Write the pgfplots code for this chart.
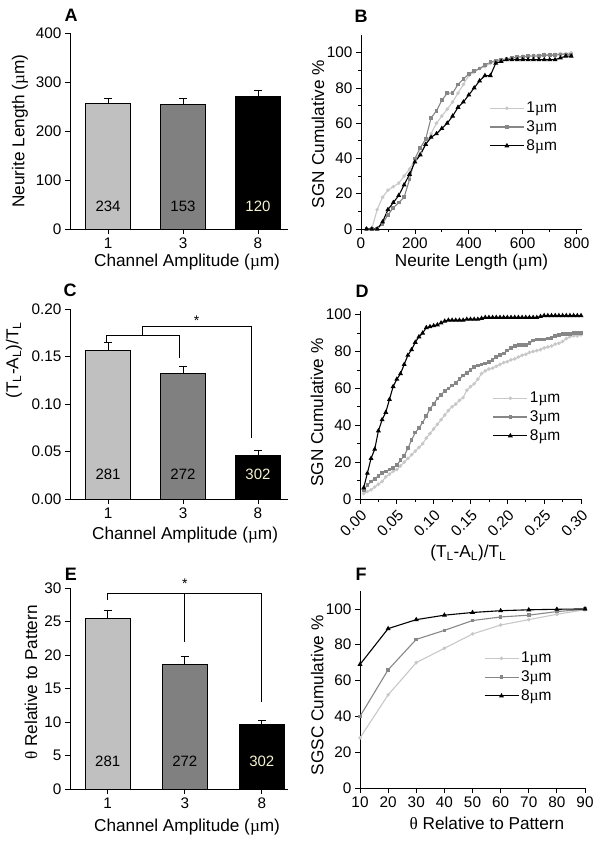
\documentclass[border=0pt]{standalone}
\usepackage{pgfplots}
\pgfplotsset{compat=1.18}
\usepackage{pgfplotstable}
\usepackage{fontspec}
\setmainfont{Liberation Sans}
\newfontfamily\sym{Liberation Serif}
\newcommand{\um}{{\sym µ}m}
\newcommand{\TA}{(T\textsubscript{L}-A\textsubscript{L})/T\textsubscript{L}}

\definecolor{barA}{RGB}{192,192,192}
\definecolor{barB}{RGB}{128,128,128}
\definecolor{lineA}{RGB}{200,200,200}
\definecolor{lineB}{RGB}{135,135,135}
\definecolor{cream}{RGB}{245,240,205}

\pgfplotsset{
  panel/.style={
    scale only axis, anchor=south west, clip=false,
    axis lines=left, axis line style={-, line width=0.8pt},
    tick align=outside, major tick length=5pt, minor tick length=3pt,
    tick style={line width=0.8pt, black},
    tick label style={font=\fontsize{15.3}{17}\selectfont},
    label style={font=\fontsize{17.2}{19}\selectfont},
    /pgf/number format/assume math mode=true,
  },
  barpanel/.style={panel, xtick={0,1,2}, xticklabels={1,3,8}, ymin=0},
  curvepanel/.style={panel,
    legend style={draw=none, fill=none, font=\fontsize{15.5}{17}\selectfont,
      row sep=2.5pt, legend cell align=left, anchor=north west,
      inner sep=0pt},
    legend image code/.code={\draw[mark repeat=2, mark phase=2]
      plot coordinates {(0pt,0pt) (17pt,0pt) (34pt,0pt)};}},
  sA/.style={color=lineA, line width=1.1pt, mark=*, mark size=1.2pt},
  sB/.style={color=lineB, line width=1.1pt, mark=square*, mark size=1.3pt},
  sC/.style={color=black, line width=1.1pt, mark=triangle*, mark size=1.8pt},
  bar/.style={ybar, bar width=45pt, bar shift=0pt, draw=black, line width=0.8pt,
    error bars/y dir=plus, error bars/y explicit,
    error bars/error bar style={line width=0.8pt, black},
    error bars/error mark options={rotate=90, mark size=4pt, line width=0.8pt, black}},
}

% Panel B: cumulative neurite length
\pgfplotstableread{
x a b c
20 0 0 0
40 0 0 0
60 11 0 0
80 18 3 4
100 22 8 11
120 24 12 15
140 26 15 19
160 30 18 25
180 34 28 31
200 39 40 38
220 43 46 42
240 48 51 48
260 54 63 52
280 60 67 54
300 64 73 57
320 68 77 60
340 72 77 64
360 77 82 69
380 82 85 72
400 87 88 76
420 89 89.5 80
440 91 91 84
460 92 93 87
480 94 94.5 87
500 95 95.5 94
520 96 96 95
540 96 96.5 96
560 97 97 96
580 97.5 97.5 96
600 98 97.5 96
620 98 98 96
640 98.5 98 96
660 98.5 98 96
680 99 98.5 96
700 99 98.5 96
720 99 98.5 96
740 99.5 99 97
760 99.5 99 98
780 100 99 98
}\tabB

% Panel D: cumulative (TL-AL)/TL
\pgfplotstableread{
x a b c
0.005 3 5 6
0.010 4 7.5 14
0.015 5 9.5 22
0.020 6.5 11 27
0.025 8 12.5 37
0.030 9.5 14 43
0.035 12 15 47
0.040 13.5 16 54
0.045 15 17 61
0.050 16 18.5 65
0.055 18 21 68
0.060 20 23.5 73
0.065 22 27.5 78
0.070 24 32 81
0.075 26 36 85
0.080 28 38.5 88
0.085 30 41.5 90
0.090 33 45 93
0.095 35.5 49 93.5
0.100 38 51.5 94
0.105 40.5 54.5 94.5
0.110 43 56.5 95.5
0.115 45.5 58.5 96.5
0.120 48 60 97
0.125 50 61.5 97
0.130 51.5 63 97
0.135 53.5 65 97
0.140 55 67 97
0.145 59 68.5 97.5
0.150 61 70 97.5
0.155 62.5 71.5 97.5
0.160 65 72.5 97.5
0.165 68 73 98
0.170 69.5 73.5 98.5
0.175 70.5 74.5 98.5
0.180 71 75.5 98.5
0.185 72 77 98.5
0.190 73 78 98.5
0.195 74 79 98.5
0.200 74.5 80.5 98.5
0.205 75.5 82 98.5
0.210 76 83 98.5
0.215 77 83.5 98.5
0.220 78 83.5 98.5
0.225 78.5 83.5 98.5
0.230 79.5 84.5 98.5
0.235 80 86 98.5
0.240 80.5 86.5 98.5
0.245 81 86.5 99
0.250 82 86.5 99.5
0.255 82.5 87 99.5
0.260 83 87.5 99.5
0.265 84 88.5 99.5
0.270 84.5 89 99.5
0.275 85.5 89.5 99.5
0.280 87 89.5 99.5
0.285 88 89.5 99.5
0.290 88.5 90 99.5
0.295 88.5 90 99.5
0.300 89 90 99.5
}\tabD

% Panel F: cumulative angle
\pgfplotstableread{
x a b c
10 28 40 69
20 52 66 89
30 70 83 94
40 78 88 96.5
50 86 93.5 98
60 91 95.5 99
70 94 96.5 99.5
80 97 98.5 99.8
90 99.5 99.8 100
}\tabF

\begin{document}
\begin{tikzpicture}
\useasboundingbox (0pt,0pt) rectangle (601pt,844pt);

% ---------- A ----------
\begin{axis}[barpanel, at={(70pt,615pt)}, width=218pt, height=196pt,
  xmin=-0.507, xmax=2.4, ymax=400, ytick={0,100,200,300,400},
  ylabel={Neurite Length (\um)},
  ylabel style={at={(axis description cs:-0.229,0.5)}, anchor=center},
  xlabel={Channel Amplitude (\um)},
  xlabel style={at={(axis description cs:0.537,-0.168)}, anchor=center}]
\addplot[bar, fill=barA] coordinates {(0,257) +- (0,9)};
\addplot[bar, fill=barB] coordinates {(1,255) +- (0,11)};
\addplot[bar, fill=black] coordinates {(2,270) +- (0,12)};
\node[font=\fontsize{15}{17}\selectfont] at (axis cs:0,46) {234};
\node[font=\fontsize{15}{17}\selectfont] at (axis cs:1,46) {153};
\node[font=\fontsize{15}{17}\selectfont, text=cream] at (axis cs:2,46) {120};
\end{axis}

% ---------- B ----------
\begin{axis}[curvepanel, at={(361pt,615pt)}, width=221pt, height=194pt,
  xmin=0, xmax=820, ymin=0, ymax=110,
  xtick={0,200,400,600,800}, minor xtick={100,300,500,700},
  ytick={0,20,40,60,80,100}, minor ytick={10,30,50,70,90},
  ylabel={SGN Cumulative \%},
  ylabel style={at={(axis description cs:-0.195,0.49)}, anchor=center},
  xlabel={Neurite Length (\um)},
  xlabel style={at={(axis description cs:0.5,-0.17)}, anchor=center},
  legend style={at={(axis description cs:0.58,0.665)}}]
\addplot[sA] table[x=x, y=a] {\tabB};
\addplot[sB] table[x=x, y=b] {\tabB};
\addplot[sC] table[x=x, y=c] {\tabB};
\legend{1\um, 3\um, 8\um}
\end{axis}

% ---------- C ----------
\begin{axis}[barpanel, at={(70pt,345pt)}, width=218pt, height=190pt,
  xmin=-0.507, xmax=2.4, ymax=0.2, ytick={0,0.05,0.1,0.15,0.2},
  yticklabel style={/pgf/number format/.cd, fixed, fixed zerofill, precision=2},
  ylabel={\TA},
  ylabel style={at={(axis description cs:-0.257,0.73)}, anchor=center},
  xlabel={Channel Amplitude (\um)},
  xlabel style={at={(axis description cs:0.528,-0.19)}, anchor=center}]
\addplot[bar, fill=barA] coordinates {(0,0.1565) +- (0,0.0085)};
\addplot[bar, fill=barB] coordinates {(1,0.132) +- (0,0.008)};
\addplot[bar, fill=black] coordinates {(2,0.0463) +- (0,0.0046)};
\node[font=\fontsize{15}{17}\selectfont] at (axis cs:0,0.026) {281};
\node[font=\fontsize{15}{17}\selectfont] at (axis cs:1,0.026) {272};
\node[font=\fontsize{15}{17}\selectfont, text=cream] at (axis cs:2,0.026) {302};
\draw[line width=0.8pt] (axis cs:-0.017,0.164) -- (axis cs:-0.017,0.1726)
  -- (axis cs:0.95,0.1726) -- (axis cs:0.95,0.1484);
\draw[line width=0.8pt] (axis cs:0.463,0.1726) -- (axis cs:0.463,0.182)
  -- (axis cs:1.916,0.182) -- (axis cs:1.916,0.0639);
\node[font=\fontsize{14}{16}\selectfont] at (axis cs:1.18,0.1875) {*};
\end{axis}

% ---------- D ----------
\begin{axis}[curvepanel, at={(360pt,345pt)}, width=221pt, height=188pt,
  xmin=0, xmax=0.3, ymin=0, ymax=102,
  xtick={0,0.05,0.1,0.15,0.2,0.25,0.3},
  minor xtick={0.025,0.075,0.125,0.175,0.225,0.275},
  ytick={0,20,40,60,80,100}, minor ytick={10,30,50,70,90},
  xticklabel style={rotate=45, anchor=north east,
    /pgf/number format/.cd, fixed, fixed zerofill, precision=2},
  ylabel={SGN Cumulative \%},
  ylabel style={at={(axis description cs:-0.195,0.46)}, anchor=center},
  xlabel={\TA},
  xlabel style={at={(axis description cs:0.49,-0.29)}, anchor=center},
  legend style={at={(axis description cs:0.6,0.58)}}]
\addplot[sA] table[x=x, y=a] {\tabD};
\addplot[sB] table[x=x, y=b] {\tabD};
\addplot[sC] table[x=x, y=c] {\tabD};
\legend{1\um, 3\um, 8\um}
\end{axis}

% ---------- E ----------
\begin{axis}[barpanel, at={(70pt,55pt)}, width=218pt, height=201pt,
  xmin=-0.49, xmax=2.34, ymax=30, ytick={0,5,10,15,20,25,30},
  ylabel={{\sym θ} Relative to Pattern},
  ylabel style={at={(axis description cs:-0.179,0.53)}, anchor=center},
  xlabel={Channel Amplitude (\um)},
  xlabel style={at={(axis description cs:0.537,-0.19)}, anchor=center}]
\addplot[bar, fill=barA] coordinates {(0,25.4) +- (0,1.3)};
\addplot[bar, fill=barB] coordinates {(1,18.6) +- (0,1.2)};
\addplot[bar, fill=black] coordinates {(2,9.7) +- (0,0.6)};
\node[font=\fontsize{15}{17}\selectfont] at (axis cs:0,4.1) {281};
\node[font=\fontsize{15}{17}\selectfont] at (axis cs:1,4.1) {272};
\node[font=\fontsize{15}{17}\selectfont, text=cream] at (axis cs:2,4.1) {302};
\draw[line width=0.8pt] (axis cs:0,28.2) -- (axis cs:0,29.2)
  -- (axis cs:2,29.2) -- (axis cs:2,13.0);
\draw[line width=0.8pt] (axis cs:1,29.2) -- (axis cs:1,22.0);
\node[font=\fontsize{14}{16}\selectfont] at (axis cs:1,30.6) {*};
\end{axis}

% ---------- F ----------
\begin{axis}[curvepanel, at={(360pt,56pt)}, width=225pt, height=197pt,
  xmin=10, xmax=90, ymin=0, ymax=110,
  xtick={10,20,30,40,50,60,70,80,90},
  ytick={0,20,40,60,80,100},
  ylabel={SGSC Cumulative \%},
  ylabel style={at={(axis description cs:-0.19,0.47)}, anchor=center},
  xlabel={{\sym θ} Relative to Pattern},
  xlabel style={at={(axis description cs:0.564,-0.18)}, anchor=center},
  legend style={at={(axis description cs:0.55,0.70)}}]
\addplot[sA] table[x=x, y=a] {\tabF};
\addplot[sB] table[x=x, y=b] {\tabF};
\addplot[sC] table[x=x, y=c] {\tabF};
\legend{1\um, 3\um, 8\um}
\end{axis}

% panel letters
\node[font=\bfseries\fontsize{18}{20}\selectfont] at (71pt,829pt) {A};
\node[font=\bfseries\fontsize{18}{20}\selectfont] at (361pt,828pt) {B};
\node[font=\bfseries\fontsize{18}{20}\selectfont] at (70pt,554pt) {C};
\node[font=\bfseries\fontsize{18}{20}\selectfont] at (362pt,553pt) {D};
\node[font=\bfseries\fontsize{18}{20}\selectfont] at (71pt,270pt) {E};
\node[font=\bfseries\fontsize{18}{20}\selectfont] at (361pt,270pt) {F};
\end{tikzpicture}
\end{document}
